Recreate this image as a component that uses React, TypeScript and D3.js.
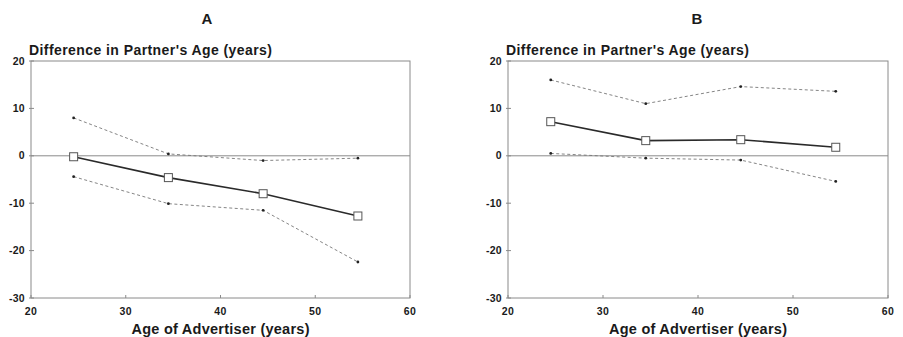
import React from "react";
import * as d3 from "d3";

const ages = [24.5, 34.5, 44.5, 54.5];
const meanA = [-0.2, -4.6, -8.0, -12.7];
const upperA = [8.0, 0.4, -1.0, -0.5];
const lowerA = [-4.4, -10.1, -11.5, -22.4];
const meanB = [7.2, 3.2, 3.4, 1.8];
const upperB = [16.0, 11.0, 14.6, 13.6];
const lowerB = [0.5, -0.5, -0.9, -5.4];
const xTicks = [20, 30, 40, 50, 60];
const yTicks = [20, 10, 0, -10, -20, -30];
const panelTitles = ["A", "B"];

const FONT = "'Liberation Sans', Arial, sans-serif";
const TEXT = "#1a1a1a";

function Panel({ left, right, title, titleX, mean, upper, lower }: any) {
  const top = 61, bottom = 298;
  const x = d3.scaleLinear().domain([20, 60]).range([left, right]);
  const y = d3.scaleLinear().domain([-30, 20]).range([bottom, top]);
  const line = d3.line<number>().x((_, i) => x(ages[i])).y((d) => y(d));
  return (
    <g>
      <text x={titleX} y={24} textAnchor="middle" fontFamily={FONT} fontWeight="bold" fontSize={15} fill={TEXT}>{title}</text>
      <text x={left - 2} y={55} fontFamily={FONT} fontWeight="bold" fontSize={14} fill={TEXT} textLength={243} lengthAdjust="spacing">Difference in Partner's Age (years)</text>
      <rect x={left} y={top} width={right - left} height={bottom - top} fill="none" stroke="#8a8a8a" strokeWidth={1} />
      <line x1={left} x2={right} y1={y(0)} y2={y(0)} stroke="#8a8a8a" strokeWidth={1} />
      {yTicks.map((t) => (
        <g key={"y" + t}>
          <line x1={left - 2} x2={left + 3} y1={y(t)} y2={y(t)} stroke="#8a8a8a" />
          <text x={left - 6} y={y(t)} dy="0.35em" textAnchor="end" fontFamily={FONT} fontWeight="bold" fontSize={10.5} fill={TEXT} letterSpacing={0.3}>{t}</text>
        </g>
      ))}
      {xTicks.map((t) => (
        <g key={"x" + t}>
          <line x1={x(t)} x2={x(t)} y1={bottom} y2={bottom - 3} stroke="#8a8a8a" />
          <text x={x(t)} y={315} textAnchor="middle" fontFamily={FONT} fontWeight="bold" fontSize={10.5} fill={TEXT} letterSpacing={0.3}>{t}</text>
        </g>
      ))}
      <text x={(left + right) / 2 - 89} y={334} fontFamily={FONT} fontWeight="bold" fontSize={14.5} fill={TEXT} textLength={178} lengthAdjust="spacing">Age of Advertiser (years)</text>
      {[upper, lower].map((s: number[], k: number) => (
        <g key={"b" + k}>
          <path d={line(s) || ""} fill="none" stroke="#777" strokeWidth={0.9} strokeDasharray="3,2.5" />
          {s.map((v, i) => (
            <circle key={i} cx={x(ages[i])} cy={y(v)} r={1.4} fill="#222" />
          ))}
        </g>
      ))}
      <path d={line(mean) || ""} fill="none" stroke="#2a2a2a" strokeWidth={1.6} />
      {mean.map((v: number, i: number) => (
        <rect key={i} x={x(ages[i]) - 4} y={y(v) - 4} width={8} height={8} fill="white" stroke="#555" strokeWidth={1} />
      ))}
    </g>
  );
}

export default function App() {
  return (
    <svg width={903} height={337} style={{ display: "block", position: "absolute", left: 0, top: 0 }}>
      <rect width={903} height={337} fill="white" />
      <Panel left={31} right={410} title={panelTitles[0]} titleX={207} mean={meanA} upper={upperA} lower={lowerA} />
      <Panel left={508} right={888} title={panelTitles[1]} titleX={697} mean={meanB} upper={upperB} lower={lowerB} />
    </svg>
  );
}
